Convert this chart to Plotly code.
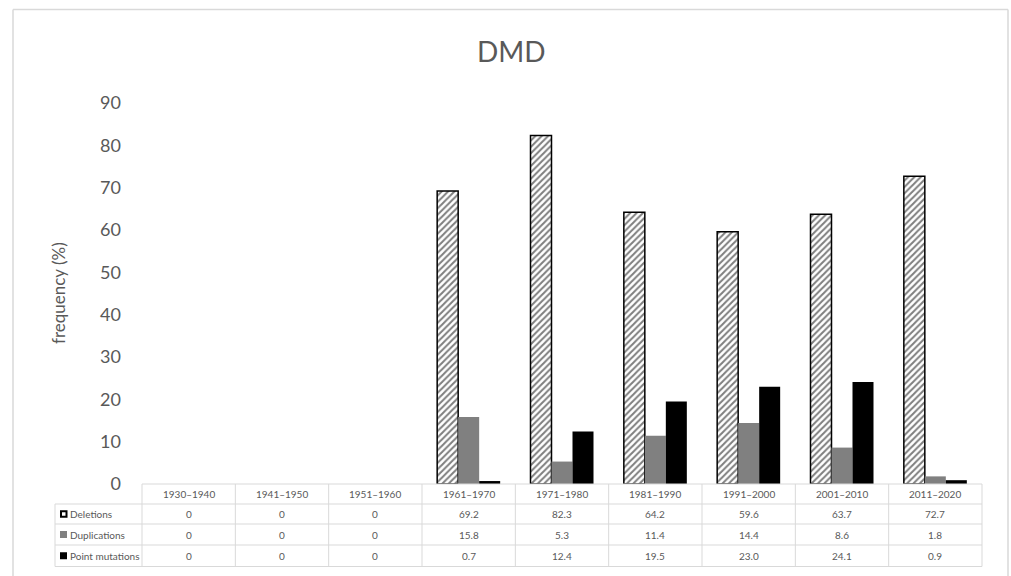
import plotly.graph_objects as go

# ---- data ----
periods = ["1930–1940", "1941–1950", "1951–1960", "1961–1970", "1971–1980",
           "1981–1990", "1991–2000", "2001–2010", "2011–2020"]
deletions = [0, 0, 0, 69.2, 82.3, 64.2, 59.6, 63.7, 72.7]
duplications = [0, 0, 0, 15.8, 5.3, 11.4, 14.4, 8.6, 1.8]
point_mutations = [0, 0, 0, 0.7, 12.4, 19.5, 23.0, 24.1, 0.9]
value_labels = {
    "Deletions": ["0", "0", "0", "69.2", "82.3", "64.2", "59.6", "63.7", "72.7"],
    "Duplications": ["0", "0", "0", "15.8", "5.3", "11.4", "14.4", "8.6", "1.8"],
    "Point mutations": ["0", "0", "0", "0.7", "12.4", "19.5", "23.0", "24.1", "0.9"],
}
y_ticks = [0, 10, 20, 30, 40, 50, 60, 70, 80, 90]

# ---- layout geometry (pixels) ----
W, H = 1011, 576
L, R, T, B = 142, 29, 103, 92
PW, PH = W - L - R, H - T - B
BOTTOM = H - B

FONT = "Lato, 'Open Sans', sans-serif"
TXT = "#595959"
GRID = "#d9d9d9"


def px_x(px):
    return (px - L) / PW


def px_y(py):
    return (BOTTOM - py) / PH


def nz(vals):
    # zero-height bars are not drawn in the reference
    return [v if v != 0 else None for v in vals]


fig = go.Figure()
fig.add_trace(go.Bar(
    x=periods, y=nz(deletions), name="Deletions",
    marker=dict(color="white", line=dict(color="black", width=1.5),
                pattern=dict(shape="/", fgcolor="black", bgcolor="white",
                             size=4.5, solidity=0.45)),
))
fig.add_trace(go.Bar(
    x=periods, y=nz(duplications), name="Duplications",
    marker=dict(color="#808080", line=dict(width=0)),
))
fig.add_trace(go.Bar(
    x=periods, y=nz(point_mutations), name="Point mutations",
    marker=dict(color="black", line=dict(width=0)),
))

shapes = []
annotations = []
n = len(periods)


def label(x, y, text, size, **kw):
    d = dict(xref="paper", yref="paper", x=x, y=y, text=text, showarrow=False,
             xanchor="center", yanchor="middle",
             font=dict(family=FONT, size=size, color=TXT))
    d.update(kw)
    annotations.append(d)


# table rows (pixel y boundaries)
row_tops = [484, 504, 524, 545, 566.5]
label_left = 55
shapes.append(dict(type="line", xref="paper", yref="paper",
                   x0=0, x1=1, y0=px_y(row_tops[0]), y1=px_y(row_tops[0]),
                   line=dict(color=GRID, width=1)))
for ry in row_tops[1:]:
    shapes.append(dict(type="line", xref="paper", yref="paper",
                       x0=px_x(label_left), x1=1, y0=px_y(ry), y1=px_y(ry),
                       line=dict(color=GRID, width=1)))
shapes.append(dict(type="line", xref="paper", yref="paper",
                   x0=px_x(label_left), x1=px_x(label_left),
                   y0=px_y(row_tops[1]), y1=px_y(row_tops[-1]),
                   line=dict(color=GRID, width=1)))
for i in range(n + 1):
    xx = i / n
    shapes.append(dict(type="line", xref="paper", yref="paper",
                       x0=xx, x1=xx, y0=px_y(row_tops[0]), y1=px_y(row_tops[-1]),
                       line=dict(color=GRID, width=1)))

# header labels
for i, p in enumerate(periods):
    label((i + 0.5) / n, px_y((row_tops[0] + row_tops[1]) / 2), p, 10)

# value rows
series_names = ["Deletions", "Duplications", "Point mutations"]
for r, name in enumerate(series_names):
    ypix = (row_tops[r + 1] + row_tops[r + 2]) / 2
    yc = px_y(ypix)
    for i in range(n):
        label((i + 0.5) / n, yc, value_labels[name][i], 10)
    label(px_x(67.5), yc, name, 10, xanchor="left")
    if r == 0:
        shapes.append(dict(type="rect", xref="paper", yref="paper",
                           x0=px_x(61), x1=px_x(66.5), y0=px_y(ypix + 2.75), y1=px_y(ypix - 2.75),
                           fillcolor="white", line=dict(color="black", width=2)))
    else:
        col = "#808080" if r == 1 else "black"
        shapes.append(dict(type="rect", xref="paper", yref="paper",
                           x0=px_x(60), x1=px_x(67), y0=px_y(ypix + 3.5), y1=px_y(ypix - 3.5),
                           fillcolor=col, line=dict(width=0)))

# outer chart border (left, top, right)
bx0, bx1, by0 = px_x(13), px_x(1008), px_y(9.5)
for (x0, y0, x1, y1) in [(bx0, px_y(580), bx0, by0), (bx0, by0, bx1, by0), (bx1, by0, bx1, px_y(580))]:
    shapes.append(dict(type="line", xref="paper", yref="paper", x0=x0, y0=y0, x1=x1, y1=y1,
                       line=dict(color=GRID, width=1.5)))

# title & axis title
label(px_x(511), px_y(51), "DMD", 28)
label(px_x(58), px_y(293), "frequency (%)", 17, textangle=-90)

fig.update_layout(
    width=W, height=H,
    margin=dict(l=L, r=R, t=T, b=B, pad=0),
    paper_bgcolor="white", plot_bgcolor="white",
    barmode="group", bargap=0.325, bargroupgap=0,
    showlegend=False,
    shapes=shapes, annotations=annotations,
    xaxis=dict(range=[-0.5, n - 0.5], showticklabels=False, showgrid=False,
               zeroline=False, showline=False, ticks=""),
    yaxis=dict(range=[0, 90], tickvals=y_ticks, showgrid=False, zeroline=False,
               showline=False, ticks="", ticklabelstandoff=20,
               tickfont=dict(family=FONT, size=18, color=TXT)),
)

fig.write_html("out.html", config={"displayModeBar": False},
               post_script="document.body.style.margin='0px';")
